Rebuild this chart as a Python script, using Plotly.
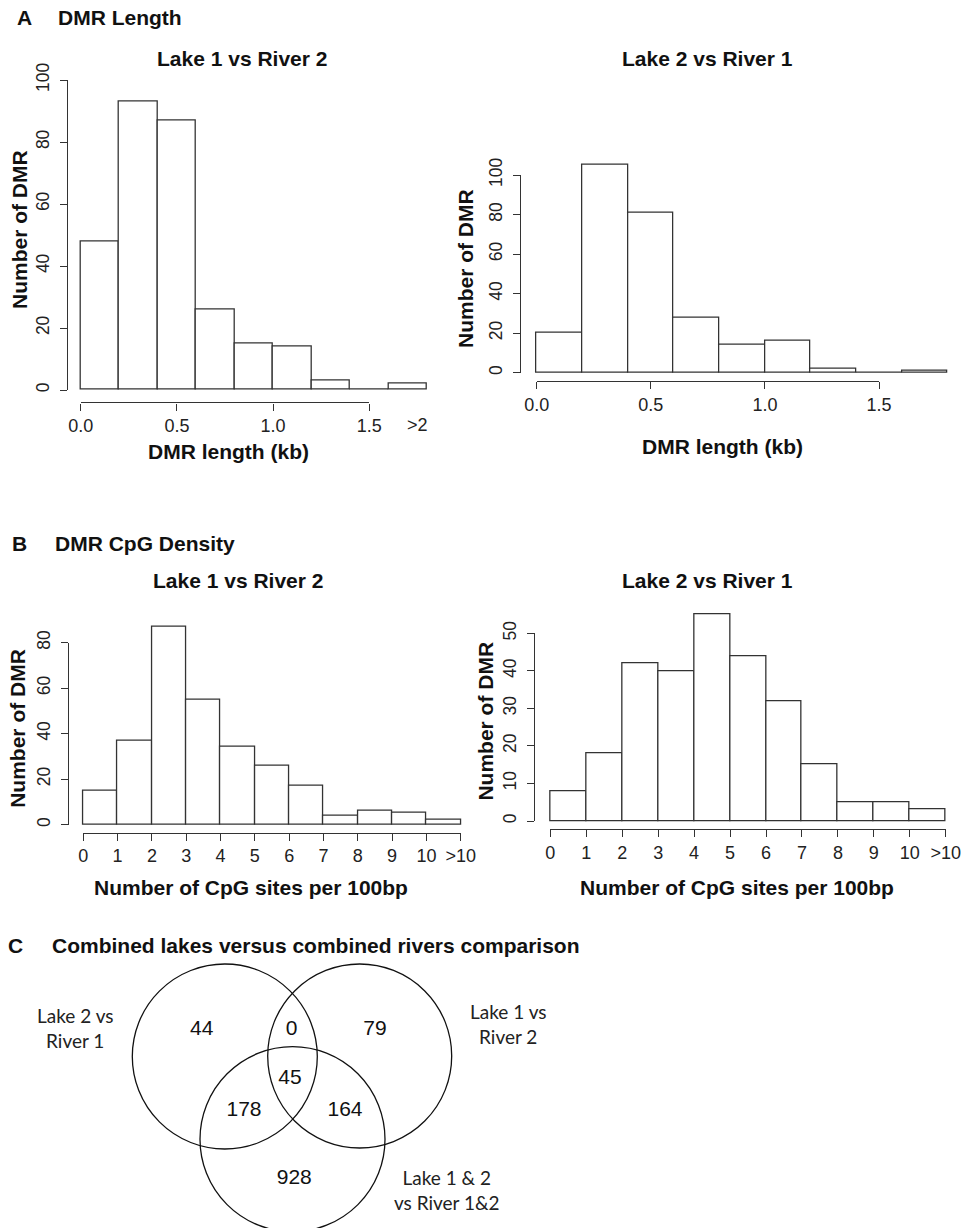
import plotly.graph_objects as go

W, H = 969, 1228

# ---------------- data ----------------
length_bin_edges_kb = [0.0, 0.2, 0.4, 0.6, 0.8, 1.0, 1.2, 1.4, 1.6, 1.8]
length_counts_lake1_river2 = [48, 93, 87, 26, 15, 14, 3, 0, 2]
length_counts_lake2_river1 = [20, 105, 81, 28, 14, 16, 2, 0, 1]
length_tick_vals = [0.0, 0.5, 1.0, 1.5]
length_tick_text = ["0.0", "0.5", "1.0", "1.5"]
length_overflow_label = ">2"
length_overflow_pos = 1.75

cpg_bin_edges = [0, 1, 2, 3, 4, 5, 6, 7, 8, 9, 10, 11]
cpg_counts_lake1_river2 = [15, 37, 87, 55, 34, 26, 17, 4, 6, 5, 2]
cpg_counts_lake2_river1 = [8, 18, 42, 40, 55, 44, 32, 15, 5, 5, 3]
cpg_tick_vals = [0, 1, 2, 3, 4, 5, 6, 7, 8, 9, 10, 11]
cpg_tick_text = ["0", "1", "2", "3", "4", "5", "6", "7", "8", "9", "10", ">10"]

y_ticks_len_left = [0, 20, 40, 60, 80, 100]
y_ticks_len_right = [0, 20, 40, 60, 80, 100]
y_ticks_cpg_left = [0, 20, 40, 60, 80]
y_ticks_cpg_right = [0, 10, 20, 30, 40, 50]

venn_set_labels = ["Lake 2 vs<br>River 1", "Lake 1 vs<br>River 2", "Lake 1 & 2<br>vs River 1&2"]
venn_region_names = ["L2R1 only", "L2R1 & L1R2", "L1R2 only", "L2R1 & comb", "all", "L1R2 & comb", "comb only"]
venn_region_counts = [44, 0, 79, 178, 45, 164, 928]

# ---------------- styles / layout ----------------
FONT = "Liberation Sans, Arial, Helvetica, sans-serif"
VFONT = "Lato, Carlito, Open Sans, sans-serif"
INK = "#222222"
LINE = "#333333"
TICK_SIZE = 18
TITLE_SIZE = 21

# panel calibration: pixel of x=0, px per x unit, pixel of y=0, px per y unit, usr ranges
panels = [
    dict(edges=length_bin_edges_kb, counts=length_counts_lake1_river2,
         x0px=80.7, xunit=192.4, y0px=390.0, yunit=3.1,
         xr=[-0.072, 1.872], yr=[-4.0, 104.0],
         xt=length_tick_vals, xtt=length_tick_text, yt=y_ticks_len_left),
    dict(edges=length_bin_edges_kb, counts=length_counts_lake2_river1,
         x0px=536.7, xunit=228.2, y0px=372.7, yunit=1.977,
         xr=[-0.072, 1.872], yr=[-4.2, 109.2],
         xt=length_tick_vals, xtt=length_tick_text, yt=y_ticks_len_right),
    dict(edges=cpg_bin_edges, counts=cpg_counts_lake1_river2,
         x0px=83.3, xunit=34.31, y0px=824.7, yunit=2.275,
         xr=[-0.44, 11.44], yr=[-3.48, 90.48],
         xt=cpg_tick_vals, xtt=cpg_tick_text, yt=y_ticks_cpg_left),
    dict(edges=cpg_bin_edges, counts=cpg_counts_lake2_river1,
         x0px=550.3, xunit=35.95, y0px=821.0, yunit=3.754,
         xr=[-0.44, 11.44], yr=[-2.2, 57.2],
         xt=cpg_tick_vals, xtt=cpg_tick_text, yt=y_ticks_cpg_right),
]


def px2x(px):
    return px / W


def py2y(py):
    return 1 - py / H


fig = go.Figure()
layout_axes = {}

for i, p in enumerate(panels):
    k = i + 1
    kd = i + 5
    sfx = "" if k == 1 else str(k)
    edges = p["edges"]
    mids = [(a + b) / 2 for a, b in zip(edges[:-1], edges[1:])]
    widths = [b - a for a, b in zip(edges[:-1], edges[1:])]
    fig.add_trace(go.Bar(
        x=mids, y=p["counts"], width=widths,
        marker=dict(color="white", line=dict(color=LINE, width=1.3)),
        xaxis="x" + sfx, yaxis="y" + sfx, showlegend=False, hoverinfo="x+y",
    ))
    left = p["x0px"] + p["xr"][0] * p["xunit"]
    right = p["x0px"] + p["xr"][1] * p["xunit"]
    bottom = p["y0px"] - p["yr"][0] * p["yunit"]
    top = p["y0px"] - p["yr"][1] * p["yunit"]
    hidden = dict(showline=False, showticklabels=False, ticks="", showgrid=False,
                  zeroline=False, fixedrange=True)
    layout_axes["xaxis" + sfx] = dict(domain=[px2x(left), px2x(right)], range=p["xr"],
                                      anchor="y" + sfx, **hidden)
    layout_axes["yaxis" + sfx] = dict(domain=[py2y(bottom), py2y(top)], range=p["yr"],
                                      anchor="x" + sfx, **hidden)
    # R-style display axes spanning only the tick range
    xt0, xt1 = p["xt"][0], p["xt"][-1]
    yt0, yt1 = p["yt"][0], p["yt"][-1]
    layout_axes["xaxis%d" % kd] = dict(
        domain=[px2x(p["x0px"] + xt0 * p["xunit"]), px2x(p["x0px"] + xt1 * p["xunit"])],
        range=[xt0, xt1], anchor="free", position=py2y(bottom),
        showline=True, linecolor=LINE, linewidth=1.3, ticks="outside", ticklen=7,
        tickwidth=1.3, tickcolor=LINE, tickvals=p["xt"], ticktext=p["xtt"],
        tickfont=dict(family=FONT, size=TICK_SIZE, color=INK), showgrid=False,
        zeroline=False, fixedrange=True, ticklabelstandoff=0, automargin=False,
    )
    layout_axes["yaxis%d" % kd] = dict(
        domain=[py2y(p["y0px"] - yt0 * p["yunit"]), py2y(p["y0px"] - yt1 * p["yunit"])],
        range=[yt0, yt1], anchor="free", position=px2x(left),
        showline=True, linecolor=LINE, linewidth=1.3, ticks="outside", ticklen=7,
        tickwidth=1.3, tickcolor=LINE, tickvals=p["yt"], tickangle=-90,
        tickfont=dict(family=FONT, size=TICK_SIZE - 0.5, color=INK), showgrid=False,
        zeroline=False, fixedrange=True, ticklabelstandoff=4, automargin=False,
    )
    fig.add_trace(go.Scatter(x=[xt0], y=[yt0], mode="markers", marker=dict(opacity=0),
                             xaxis="x%d" % kd, yaxis="y%d" % kd, showlegend=False,
                             hoverinfo="skip"))

# ---------------- Venn ----------------
VTOP = 925
layout_axes["xaxis9"] = dict(domain=[0, 1], range=[0, W], anchor="y9", visible=False,
                             fixedrange=True)
layout_axes["yaxis9"] = dict(domain=[0, py2y(VTOP)], range=[H, VTOP], anchor="x9",
                             visible=False, fixedrange=True)
venn_circles = [(224.8, 1056.5, 92.5), (359.7, 1056.0, 92.0), (292.5, 1139.2, 92.5)]
shapes = []
for cx, cy, r in venn_circles:
    shapes.append(dict(type="circle", xref="x9", yref="y9", x0=cx - r, x1=cx + r,
                       y0=cy - r, y1=cy + r, line=dict(color="#111111", width=1.3),
                       fillcolor="rgba(0,0,0,0)"))
venn_text_pos = [(201.7, 1030), (291.7, 1030), (375.0, 1030), (244.0, 1110.7),
                 (290.0, 1078.3), (345.0, 1110.7), (294.3, 1178.3)]
fig.add_trace(go.Scatter(
    x=[p[0] for p in venn_text_pos], y=[p[1] for p in venn_text_pos],
    text=[str(v) for v in venn_region_counts], customdata=venn_region_names,
    mode="text", textfont=dict(family=FONT, size=21, color="#111111"),
    xaxis="x9", yaxis="y9", showlegend=False, hovertemplate="%{customdata}: %{text}<extra></extra>",
))
venn_label_pos = [(74.6, 1027.5), (507.9, 1024.2), (446.7, 1189.7)]

# ---------------- annotations ----------------
ann = []


def add_text(text, x, y, size=TITLE_SIZE, bold=True, xanchor="center", angle=0,
             family=FONT, xref="paper", color="#111111"):
    ann.append(dict(text=text, x=x if xref != "paper" else px2x(x), y=py2y(y),
                    xref=xref, yref="paper", xanchor=xanchor, yanchor="middle",
                    showarrow=False, textangle=angle,
                    font=dict(family=family, size=size, color=color,
                              weight="bold" if bold else "normal")))


add_text("A", 15, 17, xanchor="left")
add_text("DMR Length", 56, 17, xanchor="left")
add_text("B", 10, 543, xanchor="left")
add_text("DMR CpG Density", 53, 543, xanchor="left")
add_text("C", 5.5, 945, xanchor="left")
add_text("Combined lakes versus combined rivers comparison", 49.8, 945, xanchor="left")

add_text("Lake 1 vs River 2", 241.7, 58.3)
add_text("Lake 2 vs River 1", 707.5, 58.3)
add_text("Lake 1 vs River 2", 237.5, 580)
add_text("Lake 2 vs River 1", 707.5, 580)

add_text("Number of DMR", 20, 230, angle=-90)
add_text("Number of DMR", 465.7, 268.3, angle=-90)
add_text("Number of DMR", 17.5, 728.3, angle=-90)
add_text("Number of DMR", 485.8, 720.8, angle=-90)

add_text("DMR length (kb)", 228.3, 451.7)
add_text("DMR length (kb)", 722.8, 446.7)
add_text("Number of CpG sites per 100bp", 250.5, 887)
add_text("Number of CpG sites per 100bp", 736.5, 887)

add_text(length_overflow_label, length_overflow_pos, 425, size=TICK_SIZE, bold=False,
         xref="x", color=INK)

for lab, (x, y) in zip(venn_set_labels, venn_label_pos):
    add_text(lab, x, y, size=19, bold=False, family=VFONT, color="#222222")

fig.update_layout(
    width=W, height=H, margin=dict(l=0, r=0, t=0, b=0, autoexpand=False),
    paper_bgcolor="white", plot_bgcolor="rgba(0,0,0,0)",
    annotations=ann, shapes=shapes, bargap=0, showlegend=False,
    **layout_axes,
)

fig.write_html(
    "out.html",
    config={"displayModeBar": False},
    post_script="document.body.style.margin='0';document.body.style.padding='0';"
                "document.documentElement.style.overflow='hidden';",
)
